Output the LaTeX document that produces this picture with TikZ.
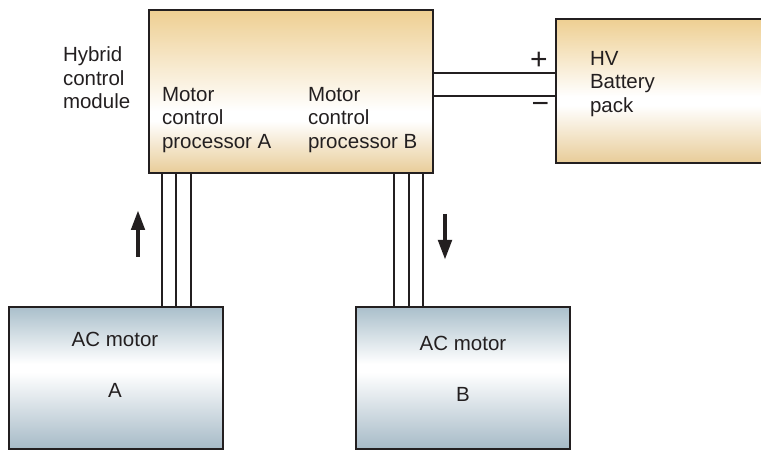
\documentclass[tikz,border=0pt]{standalone}
\usepackage{fontspec}
\setmainfont{Liberation Sans}
\usetikzlibrary{calc,arrows.meta}
\definecolor{ink}{RGB}{35,31,32}
\definecolor{tanT}{RGB}{238,207,146}
\definecolor{tanB}{RGB}{232,204,152}
\definecolor{bluT}{RGB}{170,191,203}
\definecolor{bluB}{RGB}{166,186,199}
\pgfdeclareverticalshading{hcmshade}{100bp}{color(0bp)=(tanB); color(25bp)=(tanB); color(41bp)=(white); color(44bp)=(white); color(75bp)=(tanT); color(100bp)=(tanT)}
\pgfdeclareverticalshading{batshade}{100bp}{color(0bp)=(tanB); color(25bp)=(tanB); color(45bp)=(white); color(48bp)=(white); color(75bp)=(tanT); color(100bp)=(tanT)}
\pgfdeclareverticalshading{motshade}{100bp}{color(0bp)=(bluB); color(25bp)=(bluB); color(52bp)=(white); color(55bp)=(white); color(75bp)=(bluT); color(100bp)=(bluT)}
\begin{document}
\begin{tikzpicture}[x=1bp,y=-1bp,
  font=\fontsize{20.5bp}{23.5bp}\selectfont, text=ink,
  box/.style={draw=ink, line width=2.4bp, rectangle, inner sep=0pt, outer sep=0pt, shade},
  wire/.style={draw=ink, line width=2bp},
  bigarrow/.style={draw=ink, line width=4.5bp, -{Triangle[width=13bp,length=20bp]}},
  lbl/.style={inner sep=0pt, outer sep=0pt, align=left, anchor=north west},
  sign/.style={inner sep=0pt, anchor=base, font=\fontsize{30bp}{30bp}\selectfont}]
\useasboundingbox (0,0) rectangle (761,451);

% boxes
\node[box, shading=hcmshade, minimum width=284bp, minimum height=163bp] (hcm) at (291,91.5) {};
\begin{scope}
  \clip (0,0) rectangle (761,451);
  \node[box, shading=batshade, minimum width=240bp, minimum height=144bp] (bat) at (676,91) {};
\end{scope}
\node[box, shading=motshade, minimum width=214bp, minimum height=142bp] (mA) at (116,378) {};
\node[box, shading=motshade, minimum width=214bp, minimum height=142bp] (mB) at (463,378) {};

% battery wires
\coordinate (pp) at ($(hcm.east)+(0,-18.5)$);
\coordinate (mm) at ($(hcm.east)+(0,4.5)$);
\draw[wire] (pp) -- (pp -| bat.west);
\draw[wire] (mm) -- (mm -| bat.west);

% motor wires
\foreach \dx [count=\i] in {46,60,75}{
  \coordinate (wa\i) at ($(mA.north)+(\dx,0)$);
  \draw[wire] (wa\i) -- (wa\i |- hcm.south);
}
\foreach \dx [count=\i] in {-69,-54,-40}{
  \coordinate (wb\i) at ($(mB.north)+(\dx,0)$);
  \draw[wire] (wb\i) -- (wb\i |- hcm.south);
}

% direction arrows
\coordinate (upS) at (138,257);
\coordinate (upE) at (138,210);
\draw[bigarrow] (upS) -- (upE);
\coordinate (dnS) at (445,214);
\coordinate (dnE) at (445,260);
\draw[bigarrow] (dnS) -- (dnE);

% labels
\node[lbl] (hyb) at (63,47) {Hybrid\\control\\module};
\node[lbl] (mcpA) at (162,87) {Motor\\control\\processor A};
\node[lbl] (mcpB) at (308,87) {Motor\\control\\processor B};
\node[lbl] (hv) at (590,51) {HV\\Battery\\pack};
\node[sign] (plus) at (539,69.5) {+};
\node[sign] (minus) at (540.5,113.5) {−};
\node[anchor=base, inner sep=0pt] (acA) at (115,347) {AC motor};
\node[anchor=base, inner sep=0pt] (lA) at (115,397) {A};
\node[anchor=base, inner sep=0pt] (acB) at (463,351) {AC motor};
\node[anchor=base, inner sep=0pt] (lB) at (463,401) {B};
\end{tikzpicture}
\end{document}
